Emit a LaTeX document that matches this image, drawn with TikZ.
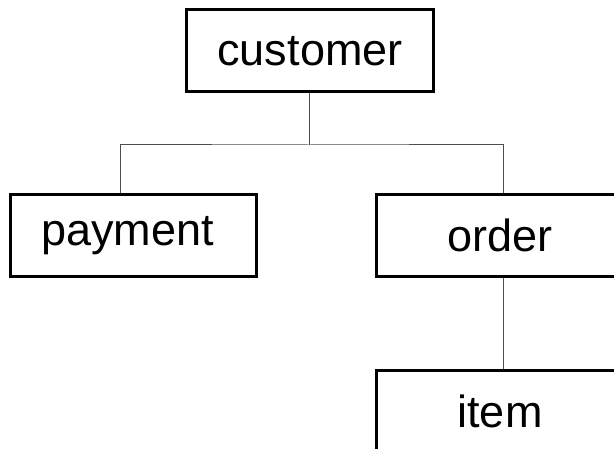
\documentclass[tikz,border=0pt]{standalone}
\usepackage{fontspec}
\setmainfont{Liberation Sans}
\begin{document}
\begin{tikzpicture}[x=1pt,y=-1pt,
  entity/.style={draw=black, line width=3pt, rectangle, inner sep=0pt,
    minimum width=247pt, minimum height=82pt, font=\fontsize{45}{50}\selectfont},
  link/.style={draw=black!70, line width=1pt}]
  \useasboundingbox (0,0) rectangle (614,449);
  \clip (0,0) rectangle (614,449);
  % entity boxes
  \node[entity] (customer) at (310,51) {customer};
  \node[entity, minimum width=246pt] (payment) at (133.5,235.5) {\hspace*{-12pt}payment};
  \node[entity] (order) at (500,235.5) {order};
  \node[entity] (item) at (500,411.5) {item};
  % tree connectors
  \coordinate (fork) at (309,145);
  \draw[link] (customer.south -| fork) -- (fork);
  \draw[link] (payment.north -| 120.5,0) |- (fork) -| (order.north -| 503,0);
  \draw[link] (order.south -| 503,0) -- (item.north -| 503,0);
\end{tikzpicture}
\end{document}
